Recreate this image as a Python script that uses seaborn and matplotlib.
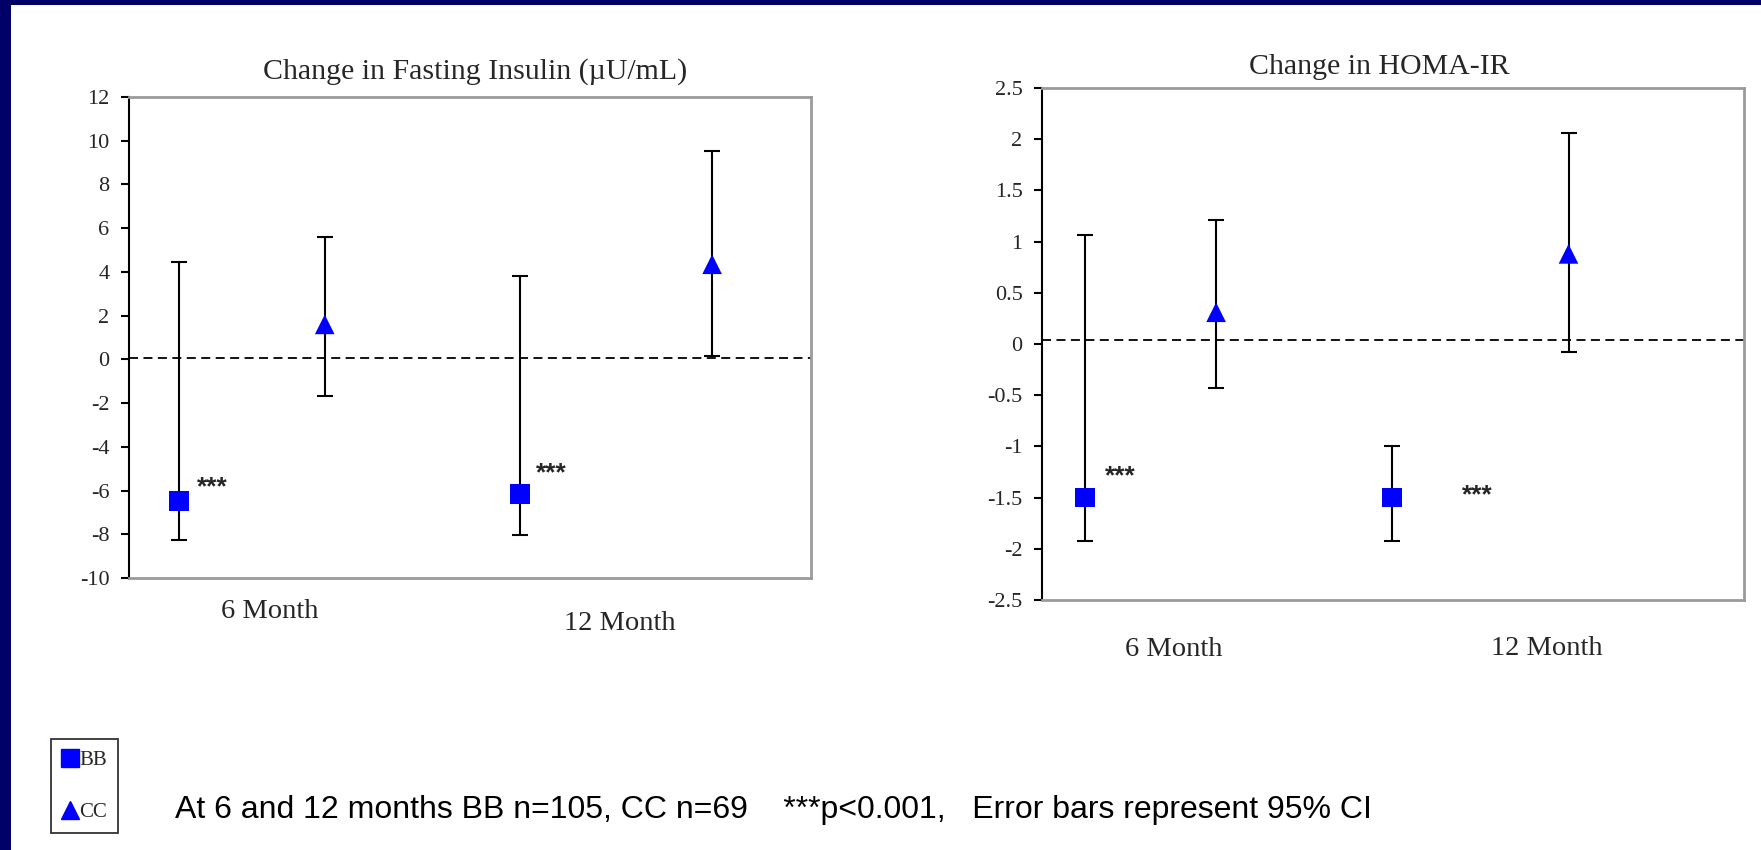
import numpy as np
import pandas as pd
import matplotlib
matplotlib.use("Agg")
import matplotlib.pyplot as plt
import matplotlib.transforms as mtrans
from matplotlib.lines import Line2D
from matplotlib.patches import Rectangle
import seaborn as sns

# data
months = ["6 Month", "12 Month"]

# fasting insulin (uU/mL), mean and 95% CI
ins_bb_mean = [-6.47, -6.16]
ins_bb_lo = [-8.24, -8.02]
ins_bb_hi = [4.45, 3.8]
ins_cc_mean = [1.6, 4.35]
ins_cc_lo = [-1.67, 0.14]
ins_cc_hi = [5.6, 9.53]

# HOMA-IR, mean and 95% CI
homa_bb_mean = [-1.5, -1.5]
homa_bb_lo = [-1.92, -1.92]
homa_bb_hi = [1.06, -1.0]
homa_cc_mean = [0.31, 0.88]
homa_cc_lo = [-0.43, -0.08]
homa_cc_hi = [1.21, 2.06]

# dashed reference line, as drawn
ref_line = [0.08, 0.035]
# "***" marks next to BB, at the y level they sit
star_y_ins = [-5.84, -5.2]
star_y_homa = [-1.29, -1.48]

titles = ["Change in Fasting Insulin (\u00b5U/mL)", "Change in HOMA-IR"]
yticks_ins = [-10, -8, -6, -4, -2, 0, 2, 4, 6, 8, 10, 12]
yticks_homa = [-2.5, -2, -1.5, -1, -0.5, 0, 0.5, 1, 1.5, 2, 2.5]
footnote = "At 6 and 12 months BB n=105, CC n=69    ***p<0.001,   Error bars represent 95% CI"

# layout (axes fraction positions), kept separate from the values
layout = [
    dict(rect=[129/1761, 1-578/850, 682/1761, 481/850], bb=[0.073, 0.573], cc=[0.287, 0.855],
         star=[0.122, 0.62], lab_x=[0.207, 0.72], lab_y=[-0.069, -0.094], title_x=0.508, pad=13),
    dict(rect=[1042/1761, 1-600/850, 702/1761, 512/850], bb=[0.061, 0.499], cc=[0.248, 0.75],
         star=[0.111, 0.62], lab_x=[0.188, 0.719], lab_y=[-0.096, -0.094], title_x=0.48, pad=10),
]

sns.set_theme(style="white")
plt.rcParams["font.family"] = ["Liberation Serif", "DejaVu Serif"]

BLUE = "#0000ff"
NAVY = "#000066"

fig = plt.figure(figsize=(17.61, 8.5), dpi=100)
fig.patch.set_facecolor("white")

panels = [
    (ins_bb_mean, ins_bb_lo, ins_bb_hi, ins_cc_mean, ins_cc_lo, ins_cc_hi, yticks_ins, star_y_ins),
    (homa_bb_mean, homa_bb_lo, homa_bb_hi, homa_cc_mean, homa_cc_lo, homa_cc_hi, yticks_homa, star_y_homa),
]

for i, (bm, bl, bh, cm, cl, ch, yt, sy) in enumerate(panels):
    lay = layout[i]
    ax = fig.add_axes(lay["rect"])
    df = pd.DataFrame({
        "x": lay["bb"] + lay["cc"],
        "mean": bm + cm,
        "lo": bl + cl,
        "hi": bh + ch,
        "group": ["BB"] * 2 + ["CC"] * 2,
        "month": months * 2,
    })
    ax.errorbar(df["x"], df["mean"], yerr=[df["mean"] - df["lo"], df["hi"] - df["mean"]],
                fmt="none", ecolor="black", elinewidth=1.5, capsize=6, capthick=1.5, zorder=2)
    sns.scatterplot(data=df, x="x", y="mean", style="group", markers={"BB": "s", "CC": "^"},
                    s=200, color=BLUE, edgecolor="none", linewidth=0, legend=False, ax=ax, zorder=3)
    ax.axhline(ref_line[i], color="black", lw=1.3, ls=(0, (5, 3)), zorder=1)
    blend = mtrans.blended_transform_factory(ax.transAxes, ax.transData)
    for sx, syy in zip(lay["star"], sy):
        ax.text(sx, syy, "***", ha="center", va="center", fontsize=19, fontweight="bold",
                family="Liberation Sans", transform=blend)
    for lx, ly, m in zip(lay["lab_x"], lay["lab_y"], months):
        ax.text(lx, ly, m, ha="center", va="center", fontsize=20.5, transform=ax.transAxes)

    ax.set_xlim(0, 1)
    ax.set_ylim(yt[0], yt[-1])
    ax.set_yticks(yt)
    ax.set_yticklabels([f"{v:g}" for v in yt], fontsize=16)
    ax.set_xticks([])
    ax.set_xlabel("")
    ax.set_ylabel("")
    ax.set_title(titles[i], fontsize=21.5, x=lay["title_x"], pad=lay["pad"])
    ax.tick_params(axis="y", direction="out", length=6, width=1.5, color="black", left=True, pad=8)
    for side in ["top", "right", "bottom"]:
        ax.spines[side].set_color("#9a9a9a")
        ax.spines[side].set_linewidth(2)
    ax.spines["left"].set_color("black")
    ax.spines["left"].set_linewidth(1.5)
    ax.set_facecolor("white")

# legend box
handles = [
    Line2D([], [], marker="s", linestyle="none", color=BLUE, markersize=13),
    Line2D([], [], marker="^", linestyle="none", color=BLUE, markersize=13),
]
leg = fig.legend(handles, ["BB", "CC"], loc="upper left", bbox_to_anchor=(51/1761, 1-739/850),
                 frameon=True, fancybox=False, edgecolor="black", fontsize=15,
                 handlelength=0.7, handletextpad=0.1, borderpad=0.55, labelspacing=1.55,
                 borderaxespad=0)
leg.get_frame().set_linewidth(1.3)

fig.text(175/1761, 1-810/850, footnote, ha="left", va="center", fontsize=23,
         family="Liberation Sans", color="black")

# dark frame strips on the slide
fig.add_artist(Rectangle((0, 0), 11/1761, 1, transform=fig.transFigure, color=NAVY, lw=0))
fig.add_artist(Rectangle((0, 1-5/850), 1, 5/850, transform=fig.transFigure, color=NAVY, lw=0))

fig.savefig("out.png", dpi=100)
